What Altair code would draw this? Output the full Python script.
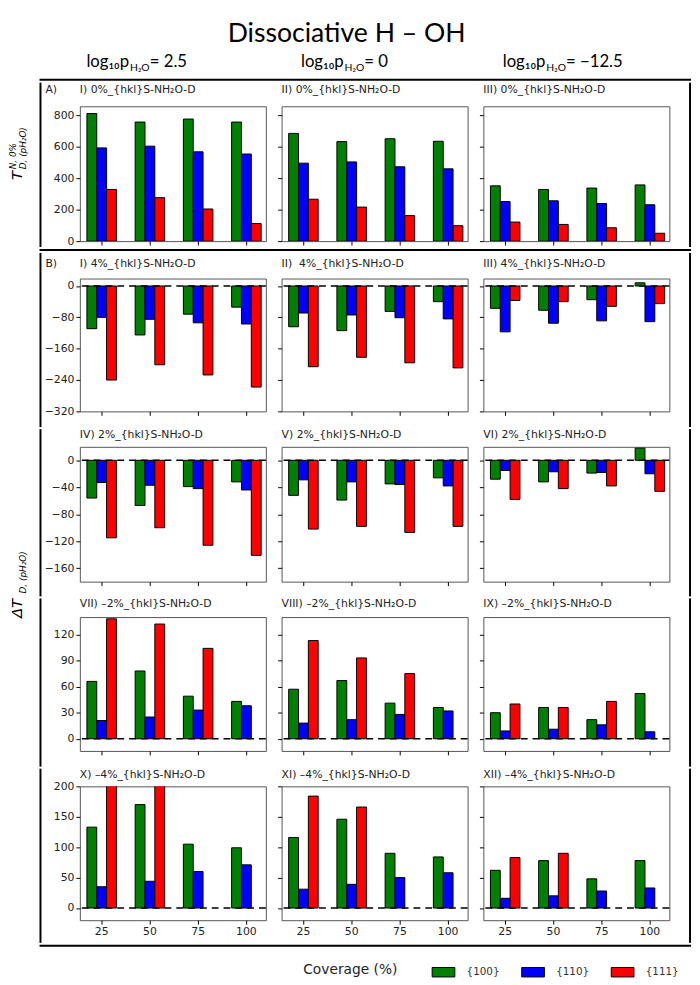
import altair as alt
import pandas as pd

# ---------------- data ----------------
coverage = [25, 50, 75, 100]
surfaces = ["{100}", "{110}", "{111}"]
bar_colors = ["#008000", "#0000ff", "#ff0000"]
pressures = ["2.5", "0", "\u221212.5"]

# each list: one entry per column (log10 p = 2.5, 0, -12.5), values at coverage 25..100
t0_100 = [[810, 756, 775, 756], [684, 632, 650, 634], [351, 328, 337, 357]]
t0_110 = [[592, 603, 567, 553], [495, 503, 472, 459], [251, 256, 239, 231]]
t0_111 = [[328, 276, 204, 112], [266, 216, 162, 98], [121, 106, 85, 50]]

p4_100 = [[-109, -125, -72, -54], [-104, -114, -65, -40], [-57, -62, -35, 8]]
p4_110 = [[-80, -85, -94, -97], [-69, -74, -81, -84], [-117, -95, -89, -91]]
p4_111 = [[-240, -201, -227, -258], [-206, -182, -196, -209], [-37, -40, -52, -45]]

p2_100 = [[-56, -67, -39, -32], [-52, -59, -35, -26], [-28, -32, -19, 18]]
p2_110 = [[-33, -37, -42, -44], [-29, -32, -36, -38], [-15, -17, -18, -20]]
p2_111 = [[-115, -100, -126, -141], [-102, -98, -107, -98], [-58, -42, -38, -46]]

m2_100 = [[66, 78, 49, 43], [57, 67, 41, 36], [30, 36, 22, 52]]
m2_110 = [[21, 25, 33, 38], [18, 22, 28, 32], [9, 11, 16, 8]]
m2_111 = [[138, 132, 104, None], [113, 93, 75, None], [40, 36, 43, None]]

m4_100 = [[133, 170, 105, 99], [116, 146, 90, 84], [62, 78, 48, 78]]
m4_110 = [[35, 44, 60, 71], [31, 39, 50, 58], [16, 20, 28, 33]]
m4_111 = [[220, 220, None, None], [184, 166, None, None], [83, 90, None, None]]

sfx = "_{hkl}S-NH\u2082O-D"
titles_A = ["I) 0%" + sfx, "II) 0%" + sfx, "III) 0%" + sfx]
titles_B1 = ["I) 4%" + sfx, "II)\u00a0 4%" + sfx, "III) 4%" + sfx]
titles_B2 = ["IV) 2%" + sfx, "V) 2%" + sfx, "VI) 2%" + sfx]
titles_B3 = ["VII) \u20132%" + sfx, "VIII) \u20132%" + sfx, "IX) \u20132%" + sfx]
titles_B4 = ["X) \u20134%" + sfx, "XI) \u20134%" + sfx, "XII) \u20134%" + sfx]

ticks_A = [0, 200, 400, 600, 800]
ticks_B1 = [-320, -240, -160, -80, 0]
ticks_B2 = [-160, -120, -80, -40, 0]
ticks_B3 = [0, 30, 60, 90, 120]
ticks_B4 = [0, 50, 100, 150, 200]

# band: vertical extent of each row (frame-edge piece) relative to its plot top
rows = [
    dict(g=t0_100, b=t0_110, r=t0_111, dom=[0, 856], ticks=ticks_A, h=137, off=14,
         zero=False, tag="A)", xlab=False, titles=titles_A, band=(-24, 143)),
    dict(g=p4_100, b=p4_110, r=p4_111, dom=[-320, 19], ticks=ticks_B1, h=135, off=12,
         zero=True, tag="B)", xlab=False, titles=titles_B1, band=(-26, 151)),
    dict(g=p2_100, b=p2_110, r=p2_111, dom=[-180, 20], ticks=ticks_B2, h=137, off=9,
         zero=True, tag=None, xlab=False, titles=titles_B2, band=(-18, 152)),
    dict(g=m2_100, b=m2_110, r=m2_111, dom=[-14, 140], ticks=ticks_B3, h=136, off=10,
         zero=True, tag=None, xlab=False, titles=titles_B3, band=(-19, 152)),
    dict(g=m4_100, b=m4_110, r=m4_111, dom=[-20, 200], ticks=ticks_B4, h=136, off=9,
         zero=True, tag=None, xlab=True, titles=titles_B4, band=(-18, 159)),
]

# ---------------- style ----------------
SANS = "DejaVu Sans"
HEAD = "Lato, 'DejaVu Sans'"
PW = 189
GAP = 16
ONE = pd.DataFrame({"a": [0]})
NOVIEW = alt.ViewBackground(stroke="transparent")
color_scale = alt.Scale(domain=surfaces, range=bar_colors)
# frame edges, relative to the left edge of the first plot column
FX0, FX1 = -40, 620


def text(s, x, y, size, font=SANS, angle=0, align="left", italic=False, color="black"):
    return alt.Chart(ONE).mark_text(
        text=s, align=align, baseline="alphabetic", angle=angle, fontSize=size, font=font,
        fontStyle="italic" if italic else "normal", color=color,
    ).encode(x=alt.value(x), y=alt.value(y))


def band_rect(x1, x2, y1, y2):
    return alt.Chart(ONE).mark_rect(color="black").encode(
        x=alt.value(x1), x2=alt.value(x2), y=alt.value(y1), y2=alt.value(y2))


def panel(row, c):
    df = pd.DataFrame({
        "coverage": coverage * 3,
        "surface": [s for s in surfaces for _ in coverage],
        "value": row["g"][c] + row["b"][c] + row["r"][c],
    }).dropna()
    h = row["h"]
    if c == 0:
        yaxis = alt.Axis(values=row["ticks"], title=None, domain=False, grid=False, tickSize=4,
                         tickColor="black", labelFont=SANS, labelFontSize=11, labelColor="#222",
                         labelPadding=2, minExtent=0)
    else:
        yaxis = alt.Axis(values=row["ticks"], title=None, domain=False, grid=False, tickSize=4,
                         tickColor="black", labels=False, minExtent=0)
    xaxis = alt.Axis(title=None, domain=False, grid=False, tickSize=4, tickColor="black",
                     labels=row["xlab"], labelAngle=0, labelFont=SANS, labelFontSize=11,
                     labelColor="#222", labelPadding=2)
    y = alt.Y("value:Q", scale=alt.Scale(domain=row["dom"], nice=False), axis=yaxis)
    x = alt.X("coverage:O", scale=alt.Scale(domain=coverage, paddingInner=0.388,
                                            paddingOuter=0.122, align=0.6), axis=xaxis)
    bars = alt.Chart(df).mark_bar(stroke="black", strokeWidth=1, clip=True).encode(
        x=x,
        xOffset=alt.XOffset("surface:N", scale=alt.Scale(domain=surfaces, paddingInner=0,
                                                          paddingOuter=0)),
        y=y,
        color=alt.Color("surface:N", scale=color_scale, legend=None),
    )
    layers = [bars]
    if row["zero"]:
        layers.append(
            alt.Chart(pd.DataFrame({"value": [0]})).mark_rule(
                color="black", strokeWidth=1.6, strokeDash=[7, 5]).encode(y=y)
        )
    layers.append(text(row["titles"][c], 0, -row["off"], 11, color="#222"))
    if c == 0 and row["tag"]:
        layers.append(text(row["tag"], -35, -row["off"], 11, color="#222"))
    # frame edge pieces filling the row's band exactly
    top, bottom = row["band"]
    if c == 0:
        layers.append(band_rect(FX0 - 1, FX0 + 1, top, bottom))
    if c == 2:
        xr = FX1 - 2 * (PW + GAP)
        layers.append(band_rect(xr - 1, xr + 1, top, bottom))
    return alt.layer(*layers).properties(width=PW, height=h)


def hline():
    return band_rect(FX0 - 1, FX1 + 1, 0, 2).properties(width=1, height=2, view=NOVIEW)


def row_chart(row):
    return alt.hconcat(*[panel(row, c) for c in range(3)], spacing=GAP,
                       bounds="flush").resolve_scale(xOffset="independent", color="independent")


HB = 868
left_labels = alt.layer(
    text("T", 12, 103, 15, angle=270, italic=True),
    text("N, 0%", 6, 92, 9, angle=270, italic=True),
    text("D, (pH\u2082O)", 16, 92, 9, angle=270, italic=True),
    text("\u0394T", 12, 548, 15, angle=270, italic=True),
    text("D, (pH\u2082O)", 16, 523, 9, angle=270, italic=True),
).properties(width=28, height=HB, view=NOVIEW)

inner = alt.vconcat(
    hline(),
    row_chart(rows[0]),
    hline(),
    row_chart(rows[1]),
    row_chart(rows[2]),
    row_chart(rows[3]),
    row_chart(rows[4]),
    hline(),
    spacing=0,
).resolve_scale(xOffset="independent", color="independent")

boxes = alt.hconcat(left_labels, inner, spacing=0).resolve_scale(
    xOffset="independent", color="independent")

head_x = [121, 339, 544]
head_layers = [text("Dissociative H \u2013 OH", 342, 26, 27, font=HEAD, align="center")]
for xc, p in zip(head_x, pressures):
    head_layers.append(text("log\u2081\u2080p", xc, 51, 17, font=HEAD, align="right"))
    head_layers.append(text("H\u2082O", xc + 1, 55, 10.5, font=HEAD))
    head_layers.append(text("= " + p, xc + 21, 51, 17, font=HEAD))
header = alt.layer(*head_layers).properties(width=680, height=61, view=NOVIEW)

legend_df = pd.DataFrame({"surface": surfaces})
legend_chart = alt.Chart(legend_df).mark_bar(opacity=0).encode(
    color=alt.Color("surface:N", scale=color_scale, legend=alt.Legend(
        orient="none", legendX=298, legendY=13, direction="horizontal",
        title="Coverage (%)", titleOrient="left", titleFont=SANS, titleFontSize=14,
        titleFontWeight="normal", titleColor="#222", titlePadding=36, titleBaseline="middle",
        labelFont=SANS, labelFontSize=10.5, labelColor="#333", labelOffset=13, columnPadding=19,
        symbolType="M-1.2,-0.5H1.2V0.5H-1.2Z", symbolSize=369, symbolStrokeColor="black",
        symbolStrokeWidth=1, symbolOpacity=1, padding=0,
    ))
).properties(width=1, height=1, view=NOVIEW)

chart = alt.vconcat(header, boxes, legend_chart, spacing=0).resolve_scale(
    xOffset="independent", color="independent"
).properties(padding=0).configure_view(stroke="#555", strokeWidth=1)

chart.save("out.html", embed_options={"renderer": "svg", "actions": False})
